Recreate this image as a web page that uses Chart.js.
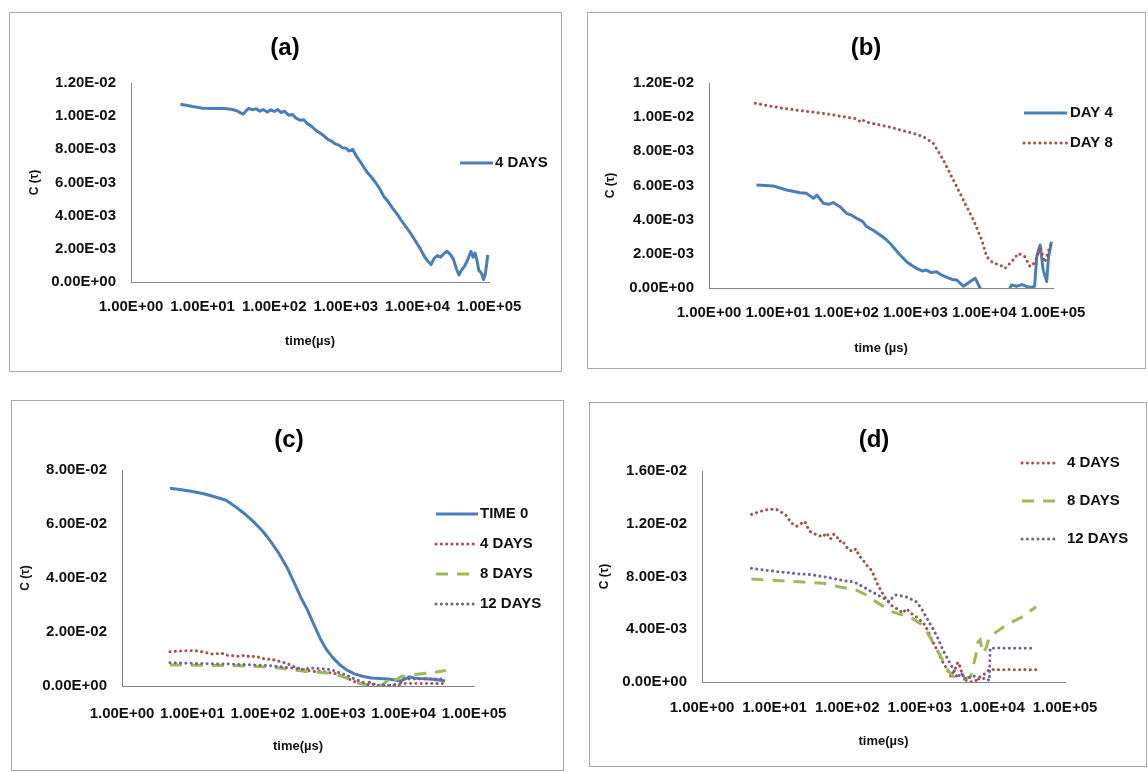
<!DOCTYPE html>
<html><head><meta charset="utf-8">
<script src="https://cdn.jsdelivr.net/npm/chart.js@4.4.1/dist/chart.umd.min.js"></script>
<style>
html,body{margin:0;padding:0;background:#fff;width:1148px;height:772px;overflow:hidden;position:relative;}
.frame{position:absolute;box-sizing:border-box;border:1px solid #a9a9a9;}
canvas{position:absolute;}
.ptitle{position:absolute;width:80px;text-align:center;font:bold 24px "Liberation Sans",Arial,sans-serif;line-height:28px;color:#000;}
</style></head><body>
<script>
// ---------- tick values ----------
const xTickValues = [1, 10, 100, 1000, 10000, 100000];
const yTicksAB = [0, 0.002, 0.004, 0.006, 0.008, 0.010, 0.012];
const yTicksC = [0, 0.02, 0.04, 0.06, 0.08];
const yTicksD = [0, 0.004, 0.008, 0.012, 0.016];

// ---------- panel (a): 4 DAYS ----------
const ta = [4.9, 7, 10, 14, 20, 26, 30, 34, 37, 40, 44, 50, 56, 63, 70, 80, 90, 100, 112, 125, 140, 160, 180, 200, 230, 260, 290, 330, 380, 430, 500, 560, 630, 700, 800, 900, 1000, 1100, 1250, 1400, 1600, 1800, 2000, 2300, 2600, 3000, 3400, 3900, 4500, 5200, 6000, 7000, 8000, 9300, 11000, 12500, 14000, 15500, 17000, 19000, 21000, 24000, 26000, 29000, 32000, 35000, 38000, 41000, 45000, 50000, 56000, 60000, 64000, 68000, 72000, 78000, 84000, 88000, 93000, 96000];
const ca = [0.01072, 0.0106, 0.01048, 0.01046, 0.01046, 0.0104, 0.01033, 0.0102, 0.01012, 0.0103, 0.01047, 0.01038, 0.01045, 0.0103, 0.0104, 0.01025, 0.01038, 0.01028, 0.0104, 0.01022, 0.0103, 0.01005, 0.0101, 0.0099, 0.00975, 0.00978, 0.00955, 0.0094, 0.00915, 0.009, 0.0088, 0.0086, 0.0085, 0.00835, 0.00825, 0.0081, 0.00808, 0.0079, 0.008, 0.0076, 0.00725, 0.0069, 0.0066, 0.0063, 0.006, 0.0056, 0.00515, 0.00485, 0.00445, 0.0041, 0.0037, 0.0033, 0.00295, 0.0025, 0.002, 0.00155, 0.00125, 0.00105, 0.0014, 0.0016, 0.0015, 0.00175, 0.00185, 0.00165, 0.00135, 0.0008, 0.00042, 0.0007, 0.00092, 0.0013, 0.00185, 0.0015, 0.00175, 0.0013, 0.0007, 0.00055, 0.00015, 0.0004, 0.0011, 0.00163];

// ---------- panel (b): DAY 4 / DAY 8 ----------
const tb4 = [4.9, 8.6, 13.5, 21, 26, 33, 37, 46, 55, 64, 80, 100, 120, 140, 170, 196, 250, 307, 360, 427, 500, 600, 745, 900, 1040, 1250, 1450, 1700, 2040, 2400, 2830, 3400, 3980, 5000, 6200, 7400, 8700, 9500, 12000, 18000, 25000, 29500, 35500, 42000, 49000, 54000, 58000, 65000, 72000, 81000, 86000, 95000];
const cb4 = [0.00603, 0.00597, 0.00574, 0.00558, 0.00554, 0.00525, 0.00544, 0.00496, 0.0049, 0.005, 0.00476, 0.00437, 0.00425, 0.00408, 0.0039, 0.00359, 0.00335, 0.0031, 0.0029, 0.00262, 0.0023, 0.00193, 0.00154, 0.0013, 0.00115, 0.001, 0.00105, 0.0009, 0.00095, 0.00075, 0.00063, 0.0005, 0.00047, 0.0001, 0.00037, 0.00057, 0.0, -0.0008, -0.0015, -0.001, 0.00018, 0.0001, 0.0002, 0.00008, 0.00005, 0.0001, 0.00183, 0.00252, 0.00105, 0.00037, 0.0018, 0.00271];
const tb8 = [4.7, 7.5, 12, 18, 29, 45, 64, 100, 140, 156, 165, 220, 307, 450, 600, 930, 1300, 1820, 2550, 3560, 4980, 6970, 9200, 10900, 13600, 17000, 20000, 25000, 31500, 39000, 46500, 55000, 65000, 76000, 95000];
const cb8 = [0.01081, 0.01066, 0.01052, 0.01042, 0.01032, 0.01022, 0.01013, 0.01, 0.0099, 0.00975, 0.00985, 0.00965, 0.00954, 0.0094, 0.00925, 0.00906, 0.00886, 0.00847, 0.00749, 0.00632, 0.00515, 0.00398, 0.00281, 0.00183, 0.00145, 0.00135, 0.00115, 0.00154, 0.00203, 0.00183, 0.00125, 0.0015, 0.00242, 0.0015, 0.0027];

// ---------- panels (c)/(d): TIME 0, 4 DAYS, 8 DAYS, 12 DAYS ----------
const t0 = [4.8, 7, 10, 15, 20, 30, 40, 55, 75, 100, 130, 170, 220, 280, 350, 430, 530, 650, 800, 1000, 1250, 1550, 2000, 2700, 3500, 4600, 6000, 7500, 9000, 10500, 12000, 14000, 17000, 21000, 26000, 32000, 39000];
const c0 = [0.0732, 0.0727, 0.072, 0.0711, 0.0702, 0.0688, 0.0666, 0.0638, 0.0607, 0.0573, 0.0535, 0.049, 0.044, 0.0382, 0.0326, 0.0282, 0.0228, 0.0177, 0.0135, 0.0103, 0.0078, 0.006, 0.0045, 0.0035, 0.003, 0.0028, 0.0026, 0.0022, 0.0018, 0.0026, 0.0034, 0.003, 0.0028, 0.0027, 0.0025, 0.0022, 0.0019];
const t4 = [4.8, 6.5, 8.6, 11.2, 14.5, 17, 20, 23, 26, 30, 35, 40, 46, 52, 59, 65, 71, 78, 85, 97, 108, 120, 132, 145, 156, 170, 183, 200, 214, 228, 240, 260, 280, 300, 324, 350, 380, 420, 468, 520, 585, 650, 724, 800, 890, 1000, 1100, 1200, 1290, 1400, 1510, 1650, 1780, 1900, 2050, 2250, 2400, 2550, 2700, 2900, 3160, 3350, 3550, 3800, 4070, 4400, 4800, 5300, 5900, 6500, 7300, 8200, 9100, 10500, 13000, 17000, 22000, 28000, 34000, 40000];
const c4 = [0.01271, 0.01295, 0.01312, 0.01305, 0.01262, 0.01205, 0.0118, 0.012, 0.01218, 0.01145, 0.01125, 0.01112, 0.011, 0.0113, 0.01085, 0.0112, 0.0111, 0.01065, 0.01075, 0.01026, 0.01, 0.0099, 0.0101, 0.0096, 0.0094, 0.00915, 0.0089, 0.00865, 0.0085, 0.0082, 0.0079, 0.00745, 0.00712, 0.0068, 0.00652, 0.0062, 0.006, 0.00575, 0.0056, 0.00545, 0.00522, 0.00555, 0.00535, 0.0051, 0.00495, 0.0047, 0.00455, 0.0042, 0.0039, 0.00345, 0.00305, 0.00265, 0.0023, 0.00195, 0.00155, 0.0012, 0.0009, 0.00065, 0.0004, 0.0008, 0.00112, 0.0015, 0.0012, 0.0007, 0.0003, 0.0001, 0.00005, 0.0, 0.0001, 0.00035, 0.0005, 0.0007, 0.00095, 0.00095, 0.00093, 0.00095, 0.00093, 0.00094, 0.00092, 0.00093];
const t8 = [4.8, 10.7, 22, 47, 80, 132, 183, 250, 347, 427, 585, 800, 1100, 1350, 1660, 2050, 2500, 3160, 4000, 5000, 5900, 6300, 6800, 7300, 8100, 9100, 15500, 25700, 40000];
const c8 = [0.00781, 0.0077, 0.0076, 0.00748, 0.0072, 0.00698, 0.0066, 0.00609, 0.0056, 0.0053, 0.00508, 0.0048, 0.0043, 0.0035, 0.0026, 0.0017, 0.0008, 0.0002, 0.0002, 0.0004, 0.002, 0.003, 0.0032, 0.0022, 0.0025, 0.00343, 0.00432, 0.00495, 0.00571];
const t12 = [4.8, 7, 10.7, 15, 22, 30, 47, 65, 80, 100, 120, 140, 166, 190, 213, 250, 282, 330, 380, 420, 465, 530, 640, 750, 890, 1000, 1100, 1290, 1510, 1780, 2050, 2500, 2950, 3300, 3700, 4300, 5400, 6600, 8100, 9100, 9300, 12000, 16000, 22000, 30000, 36000];
const c12 = [0.00862, 0.0085, 0.00837, 0.0083, 0.00819, 0.00815, 0.00799, 0.00785, 0.00774, 0.00765, 0.0076, 0.00745, 0.0072, 0.00705, 0.00685, 0.00668, 0.0065, 0.0063, 0.00609, 0.0064, 0.0066, 0.00655, 0.00647, 0.0063, 0.00609, 0.00575, 0.0054, 0.0047, 0.00407, 0.0033, 0.0025, 0.0016, 0.0009, 0.0003, 0.0007, 0.0002, 0.0005, 0.0002, 0.0003, 0.0001, 0.00256, 0.00258, 0.00256, 0.00257, 0.00256, 0.00257];

// ---------- styles ----------
const FONT = '"Liberation Sans", Arial, sans-serif';
const sBlue = {borderColor:'#4A7EBB', borderWidth:3, borderJoinStyle:'round'};
const sRedDot = {borderColor:'#A9504D', borderWidth:3, borderDash:[0.1,5.2], borderCapStyle:'round'};
const sGreenDash = {borderColor:'#9BBB59', borderWidth:3, borderDash:[12,9]};
const sPurpleDot = {borderColor:'#76609A', borderWidth:3, borderDash:[0.1,5.2], borderCapStyle:'round'};

function series(label, xs, ys, style, order){
  return Object.assign({label, data: xs.map((x,i)=>({x, y: ys[i]})), pointRadius:0, fill:false, tension:0, order}, style);
}
function sci(v){
  if (Math.abs(v) < 1e-12) v = 0;
  const [m, e] = v.toExponential(2).split('e');
  const sign = e[0] === '-' ? '-' : '+';
  return m + 'E' + sign + e.replace(/[+-]/, '').padStart(2, '0');
}

const fixedLegend = {
  id: 'fixedLegend',
  afterDraw(chart, args, o){
    const ctx = chart.ctx;
    chart.data.datasets.forEach((ds, i) => {
      const y = o.ys[i];
      ctx.save();
      ctx.strokeStyle = ds.borderColor; ctx.lineWidth = ds.borderWidth;
      ctx.setLineDash(ds.borderDash || []); ctx.lineCap = ds.borderCapStyle || 'butt';
      ctx.beginPath(); ctx.moveTo(o.x0, y); ctx.lineTo(o.x1, y); ctx.stroke();
      ctx.setLineDash([]);
      ctx.fillStyle = '#111'; ctx.font = 'bold 15px ' + FONT; ctx.textBaseline = 'middle'; ctx.textAlign = 'left';
      ctx.fillText(ds.label, o.x1 + o.gap, y);
      ctx.restore();
    });
  }
};

const panels = [
  {box:[9,12,553,360], area:{left:131,right:489,top:83,bottom:282}, title:'(a)', titleAt:[285,47],
   yMax:0.012, yTicks:yTicksAB, xTitle:'time(µs)', xTitleY:341, yTitleX:35, xLabelY:307,
   legend:{x0:460,x1:493,gap:2,ys:[163]},
   datasets:[series('4 DAYS', ta, ca, sBlue, 0)]},
  {box:[587,12,559,357], area:{left:709,right:1053,top:83,bottom:288}, title:'(b)', titleAt:[866,47],
   yMax:0.012, yTicks:yTicksAB, xTitle:'time (µs)', xTitleY:348, yTitleX:611, xLabelY:313,
   legend:{x0:1024,x1:1067,gap:3,ys:[113,143]},
   datasets:[series('DAY 4', tb4, cb4, sBlue, 0), series('DAY 8', tb8, cb8, sRedDot, -1)]},
  {box:[11,400,553,371], area:{left:122,right:474,top:470,bottom:686}, title:'(c)', titleAt:[289,439],
   yMax:0.08, yTicks:yTicksC, xTitle:'time(µs)', xTitleY:746, yTitleX:26, xLabelY:714,
   legend:{x0:436,x1:478,gap:2,ys:[514,544,574,604]},
   datasets:[series('TIME 0', t0, c0, sBlue, 0), series('4 DAYS', t4, c4, sRedDot, -1),
             series('8 DAYS', t8, c8, sGreenDash, -2), series('12 DAYS', t12, c12, sPurpleDot, -3)]},
  {box:[589,402,558,365], area:{left:702,right:1065,top:471,bottom:682}, title:'(d)', titleAt:[874,439],
   yMax:0.016, yTicks:yTicksD, xTitle:'time(µs)', xTitleY:741, yTitleX:605, xLabelY:708,
   legend:{x0:1022,x1:1056,gap:11,ys:[463,501,539]},
   datasets:[series('4 DAYS', t4, c4, sRedDot, 0), series('8 DAYS', t8, c8, sGreenDash, -1),
             series('12 DAYS', t12, c12, sPurpleDot, -2)]}
];

function build(p){
  const [bx, by, bw, bh] = p.box;
  const frame = document.createElement('div');
  frame.className = 'frame';
  Object.assign(frame.style, {left: bx+'px', top: by+'px', width: bw+'px', height: bh+'px'});
  document.body.appendChild(frame);
  const cv = document.createElement('canvas');
  cv.width = bw; cv.height = bh;
  Object.assign(cv.style, {left: bx+'px', top: by+'px', width: bw+'px', height: bh+'px'});
  document.body.appendChild(cv);
  const t = document.createElement('div');
  t.className = 'ptitle'; t.textContent = p.title;
  t.style.left = (p.titleAt[0]-40)+'px'; t.style.top = (p.titleAt[1]-14)+'px';
  document.body.appendChild(t);

  const T = p.area.top - by, R = bx + bw - p.area.right;
  const yW = p.area.left - bx, xH = by + bh - p.area.bottom;
  const tickFont = {family: FONT, size: 15, weight: 'bold', lineHeight: 1.2};
  const xTickPad = (p.xLabelY - p.area.bottom) - 9;
  const yTitlePad = (p.yTitleX - bx) - 7.2;
  const xTitlePad = bh - (p.xTitleY - by) - 7.8;
  const lg = {x0: p.legend.x0 - bx, x1: p.legend.x1 - bx, gap: p.legend.gap, ys: p.legend.ys.map(v => v - by)};

  new Chart(cv, {
    type: 'line',
    data: {datasets: p.datasets},
    options: {
      responsive: false, animation: false, devicePixelRatio: 1,
      layout: {padding: {left: 0, top: T, right: R, bottom: 0}},
      plugins: {legend: {display: false}, tooltip: {enabled: false}, fixedLegend: lg},
      elements: {point: {radius: 0}, line: {tension: 0}},
      scales: {
        x: {type: 'logarithmic', min: 1, max: 100000,
            afterBuildTicks: s => { s.ticks = xTickValues.map(v => ({value: v})); },
            afterFit: s => { s.height = xH; },
            grid: {display: false, drawTicks: false},
            border: {display: true, color: '#868686', width: 1},
            ticks: {padding: xTickPad, font: tickFont, color: '#111', maxRotation: 0, autoSkip: false, callback: v => sci(v)},
            title: {display: true, text: p.xTitle, color: '#111', font: {family: FONT, size: 13, weight: 'bold', lineHeight: 1.2}, padding: {top: 0, bottom: xTitlePad}}},
        y: {type: 'linear', min: 0, max: p.yMax,
            afterBuildTicks: s => { s.ticks = p.yTicks.map(v => ({value: v})); },
            afterFit: s => { s.width = yW; },
            grid: {display: false, drawTicks: false},
            border: {display: true, color: '#868686', width: 1},
            ticks: {padding: 15, font: tickFont, color: '#111', callback: v => sci(v)},
            title: {display: true, text: 'C (τ)', color: '#111', font: {family: FONT, size: 12, weight: 'bold', lineHeight: 1.2}, padding: {top: yTitlePad, bottom: 0}}}
      }
    },
    plugins: [fixedLegend]
  });
}
panels.forEach(build);
</script>
</body></html>
